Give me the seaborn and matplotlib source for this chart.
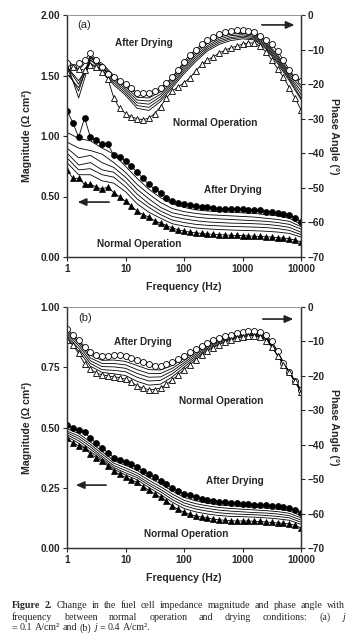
import matplotlib
matplotlib.use("Agg")
import matplotlib.pyplot as plt
import matplotlib.ticker as mticker
import seaborn as sns

# sampled frequencies (Hz): markers ~10 per decade, plain lines 5 per decade
freq_pts = [1, 1.26, 1.58, 2.0, 2.51, 3.16, 3.98, 5.01, 6.31, 7.94,
            10, 12.6, 15.8, 20.0, 25.1, 31.6, 39.8, 50.1, 63.1, 79.4,
            100, 126, 158, 200, 251, 316, 398, 501, 631, 794,
            1000, 1259, 1585, 1995, 2512, 3162, 3981, 5012, 6310, 7943, 10000]
freq_lines = [1, 1.58, 2.51, 3.98, 6.31, 10, 15.8, 25.1, 39.8, 63.1, 100,
              158, 251, 398, 631, 1000, 1585, 2512, 3981, 6310, 10000]

# ---- panel (a): j = 0.1 A/cm2 ----
a_mag_dry = [1.21, 1.11, 0.99, 1.15, 0.99, 0.97, 0.93, 0.93, 0.84, 0.83,
             0.79, 0.75, 0.70, 0.65, 0.60, 0.56, 0.53, 0.49, 0.46, 0.45,
             0.44, 0.43, 0.42, 0.41, 0.41, 0.405, 0.40, 0.40, 0.40, 0.40,
             0.395, 0.39, 0.39, 0.385, 0.375, 0.37, 0.36, 0.355, 0.345, 0.325, 0.29]
a_mag_norm = [0.72, 0.65, 0.65, 0.60, 0.60, 0.58, 0.56, 0.58, 0.53, 0.50,
              0.46, 0.42, 0.38, 0.35, 0.33, 0.30, 0.28, 0.26, 0.24, 0.225,
              0.215, 0.205, 0.20, 0.195, 0.19, 0.188, 0.185, 0.182, 0.18, 0.178,
              0.176, 0.174, 0.172, 0.17, 0.167, 0.164, 0.16, 0.156, 0.15, 0.14, 0.124]
a_mag_mid = [
    [1.03, 0.98, 0.96, 0.90, 0.85, 0.75, 0.65, 0.56, 0.49, 0.44, 0.41,
     0.39, 0.38, 0.375, 0.37, 0.365, 0.36, 0.35, 0.34, 0.32, 0.27],
    [0.95, 0.90, 0.88, 0.85, 0.78, 0.70, 0.60, 0.52, 0.45, 0.40, 0.375,
     0.36, 0.35, 0.345, 0.34, 0.335, 0.33, 0.32, 0.31, 0.295, 0.25],
    [0.90, 0.82, 0.84, 0.78, 0.74, 0.66, 0.56, 0.48, 0.41, 0.365, 0.345,
     0.33, 0.32, 0.315, 0.31, 0.305, 0.30, 0.295, 0.285, 0.27, 0.23],
    [0.86, 0.76, 0.78, 0.72, 0.70, 0.62, 0.52, 0.44, 0.38, 0.335, 0.315,
     0.30, 0.29, 0.285, 0.28, 0.278, 0.275, 0.27, 0.26, 0.245, 0.205],
    [0.82, 0.72, 0.73, 0.68, 0.66, 0.58, 0.48, 0.41, 0.35, 0.305, 0.285,
     0.27, 0.262, 0.257, 0.253, 0.25, 0.247, 0.243, 0.235, 0.22, 0.185],
    [0.78, 0.68, 0.68, 0.63, 0.61, 0.54, 0.44, 0.37, 0.32, 0.275, 0.255,
     0.24, 0.232, 0.227, 0.223, 0.22, 0.217, 0.213, 0.206, 0.195, 0.165],
]
a_ph_dry = [-14, -15, -14, -13, -11, -13, -15, -17, -18, -19,
            -20, -21, -22.5, -22.7, -22.6, -22, -21, -19.8, -18, -15.8,
            -13.5, -11.5, -10, -8.5, -7.3, -6.3, -5.5, -5, -4.6, -4.4,
            -4.4, -4.5, -5, -6, -7.3, -8.5, -10.5, -13, -16, -18, -19]
a_ph_norm = [-16.5, -15, -15.5, -16, -14.5, -15, -16.5, -18.5, -24, -27,
             -28.5, -29.5, -30, -30.3, -29.8, -28.5, -26.5, -24, -22, -20.8,
             -19.6, -18.2, -16.2, -14.3, -13, -12.1, -11, -10.2, -9.5, -9,
             -8.4, -8.1, -8.1, -9, -10.7, -13, -15.5, -18, -21, -24, -27.5]
a_ph_mid = [
    [-13, -16, -12, -14, -17.5, -20.3, -23, -23.2, -21.5, -18, -14,
     -10.5, -7.8, -6, -5.1, -4.9, -5.4, -7.8, -11.5, -16.5, -20],
    [-15, -20, -12.5, -14.5, -18, -20.8, -23.8, -24, -22.2, -18.6, -14.6,
     -11.1, -8.3, -6.5, -5.5, -5.3, -5.8, -8.2, -12, -17, -21],
    [-14, -24, -13, -15, -18.5, -21.4, -24.6, -24.9, -22.9, -19.2, -15.2,
     -11.7, -8.9, -7, -6, -5.7, -6.2, -8.6, -12.5, -17.5, -22],
    [-16, -22, -12, -15.2, -19, -22, -25.4, -25.8, -23.6, -19.8, -15.8,
     -12.3, -9.4, -7.5, -6.5, -6.1, -6.5, -9, -13, -18, -23],
    [-15, -19, -14, -15.8, -19.6, -22.6, -26.2, -26.7, -24.3, -20.4, -16.4,
     -12.9, -9.9, -8, -6.9, -6.5, -6.9, -9.4, -13.5, -18.5, -24],
    [-17, -21, -13, -16, -20.2, -23.2, -27, -27.6, -25, -21, -17,
     -13.5, -10.4, -8.5, -7.4, -6.9, -7.2, -9.8, -14, -19, -24.5],
]

# ---- panel (b): j = 0.4 A/cm2 ----
b_mag_dry = [0.51, 0.50, 0.49, 0.48, 0.455, 0.435, 0.415, 0.395, 0.375, 0.365,
             0.355, 0.35, 0.335, 0.32, 0.305, 0.295, 0.28, 0.265, 0.25, 0.235,
             0.225, 0.218, 0.21, 0.205, 0.20, 0.196, 0.192, 0.19, 0.188, 0.186,
             0.184, 0.182, 0.18, 0.179, 0.178, 0.176, 0.173, 0.17, 0.166, 0.158, 0.145]
b_mag_norm = [0.456, 0.436, 0.425, 0.415, 0.39, 0.375, 0.36, 0.34, 0.32, 0.305,
              0.293, 0.283, 0.272, 0.255, 0.24, 0.225, 0.21, 0.195, 0.175, 0.16,
              0.148, 0.14, 0.133, 0.128, 0.124, 0.12, 0.117, 0.115, 0.113, 0.112,
              0.112, 0.112, 0.111, 0.11, 0.108, 0.106, 0.104, 0.102, 0.10, 0.094, 0.083]
b_mag_mid = [
    [0.495, 0.475, 0.44, 0.40, 0.362, 0.343, 0.322, 0.292, 0.266, 0.236, 0.21,
     0.196, 0.186, 0.179, 0.175, 0.172, 0.168, 0.166, 0.161, 0.154, 0.134],
    [0.485, 0.465, 0.43, 0.39, 0.352, 0.332, 0.311, 0.281, 0.254, 0.224, 0.198,
     0.184, 0.175, 0.168, 0.164, 0.161, 0.158, 0.155, 0.151, 0.144, 0.125],
    [0.478, 0.455, 0.42, 0.38, 0.342, 0.322, 0.301, 0.27, 0.243, 0.212, 0.187,
     0.173, 0.164, 0.157, 0.153, 0.150, 0.147, 0.145, 0.141, 0.134, 0.116],
    [0.47, 0.445, 0.41, 0.372, 0.334, 0.312, 0.292, 0.261, 0.233, 0.201, 0.176,
     0.162, 0.153, 0.146, 0.142, 0.140, 0.138, 0.135, 0.131, 0.125, 0.107],
    [0.462, 0.435, 0.40, 0.365, 0.327, 0.303, 0.283, 0.251, 0.222, 0.19, 0.164,
     0.15, 0.141, 0.135, 0.131, 0.13, 0.128, 0.125, 0.121, 0.115, 0.098],
]
b_ph_dry = [-6.4, -8, -9.5, -11.5, -13, -13.8, -14.3, -14.2, -14, -14,
            -14.3, -14.8, -15.4, -16, -16.7, -17.1, -17, -16.6, -16, -15.2,
            -14.2, -13.2, -12.2, -11.3, -10.4, -9.6, -9, -8.4, -8, -7.6,
            -7.3, -7.1, -7.1, -7.3, -8.2, -10, -12.8, -16.4, -19, -21.5, -24]
b_ph_norm = [-9.6, -11, -13.5, -16.5, -18, -19.2, -19.7, -20, -20.3, -20.5,
             -21, -21.8, -22.9, -23.6, -24, -24, -23.5, -22.5, -21.2, -19.7,
             -18.2, -16.8, -15.3, -14, -12.8, -11.8, -10.9, -10.2, -9.6, -9.1,
             -8.7, -8.4, -8.4, -8.8, -9.8, -11.5, -14.2, -16.8, -19, -21.5, -24.7]
b_ph_mid = [
    [-7, -10, -14, -15.5, -15.4, -15.8, -17, -18.2, -18.3, -17, -15,
     -12.8, -10.8, -9.3, -8.3, -7.6, -7.4, -8.5, -13, -19, -24.2],
    [-7.5, -10.5, -14.8, -16.4, -16.4, -16.8, -18.2, -19.3, -19.3, -17.8, -15.6,
     -13.3, -11.2, -9.6, -8.6, -7.8, -7.6, -8.7, -13.2, -19, -24.3],
    [-8, -11.2, -15.6, -17.3, -17.4, -17.8, -19.3, -20.4, -20.3, -18.6, -16.2,
     -13.8, -11.6, -9.9, -8.8, -8, -7.8, -8.9, -13.4, -19, -24.4],
    [-8.5, -12, -16.4, -18.2, -18.4, -18.8, -20.4, -21.5, -21.3, -19.4, -16.8,
     -14.3, -12, -10.2, -9.1, -8.2, -8, -9.1, -13.6, -19, -24.5],
    [-9, -12.8, -17.2, -19, -19.4, -19.9, -21.6, -22.7, -22.4, -20.3, -17.5,
     -14.8, -12.4, -10.6, -9.3, -8.5, -8.2, -9.4, -13.9, -19, -24.6],
]

x_ticks = [1, 10, 100, 1000, 10000]
phase_ticks = [0, -10, -20, -30, -40, -50, -60, -70]

sns.set_style("ticks")
plt.rcParams['font.family'] = ['Liberation Sans', 'DejaVu Sans']
plt.rcParams['font.weight'] = 'bold'

W, H = 357, 641
fig = plt.figure(figsize=(W / 100, H / 100), dpi=100)


def px_axes(x0, y0, x1, y1):
    return fig.add_axes([x0 / W, 1 - y1 / H, (x1 - x0) / W, (y1 - y0) / H])


def draw_panel(ax, mag_dry, mag_norm, mag_mid, ph_dry, ph_norm, ph_mid,
               mag_max, mag_step, label, texts):
    ax2 = ax.twinx()
    for vals in mag_mid:
        sns.lineplot(x=freq_lines, y=vals, ax=ax, color='black', lw=0.6)
    for vals in ph_mid:
        sns.lineplot(x=freq_lines, y=vals, ax=ax2, color='black', lw=0.6)
    sns.lineplot(x=freq_pts, y=mag_dry, ax=ax, color='black', lw=0.6,
                 marker='o', markersize=4.3, markerfacecolor='black',
                 markeredgecolor='black', markeredgewidth=0.5)
    sns.lineplot(x=freq_pts, y=mag_norm, ax=ax, color='black', lw=0.6,
                 marker='^', markersize=4.3, markerfacecolor='black',
                 markeredgecolor='black', markeredgewidth=0.5)
    sns.lineplot(x=freq_pts, y=ph_dry, ax=ax2, color='black', lw=0.6,
                 marker='o', markersize=4.3, markerfacecolor='white',
                 markeredgecolor='black', markeredgewidth=0.6)
    sns.lineplot(x=freq_pts, y=ph_norm, ax=ax2, color='black', lw=0.6,
                 marker='^', markersize=4.3, markerfacecolor='white',
                 markeredgecolor='black', markeredgewidth=0.6)

    ax.set_xscale('log')
    ax.set_xlim(1, 10000)
    ax.set_xticks(x_ticks)
    ax.xaxis.set_major_formatter(mticker.FixedFormatter([str(v) for v in x_ticks]))
    ax.xaxis.set_minor_locator(mticker.NullLocator())
    ax.set_ylim(0, mag_max)
    ax.yaxis.set_major_locator(mticker.MultipleLocator(mag_step))
    ax.yaxis.set_major_formatter(mticker.FormatStrFormatter('%.2f'))
    ax2.set_ylim(-70, 0)
    ax2.set_yticks(phase_ticks)

    for a in (ax, ax2):
        a.tick_params(labelsize=7.2, length=3, width=0.8, pad=2)
        for lab in a.get_xticklabels() + a.get_yticklabels():
            lab.set_fontweight('bold')
        for side in ('left', 'right', 'bottom'):
            a.spines[side].set_color('#333333')
            a.spines[side].set_linewidth(0.9)
        a.spines['top'].set_color('#999999')
        a.spines['top'].set_linewidth(0.7)

    ax.set_xlabel('Frequency (Hz)', fontsize=7.6, fontweight='bold', labelpad=6)
    ax.set_ylabel('Magnitude (Ω cm²)', fontsize=7.6, fontweight='bold', labelpad=6)
    ax2.set_ylabel('Phase Angle (°)', fontsize=7.6, fontweight='bold',
                   rotation=270, labelpad=10)

    ax.text(label[1], label[2], label[0], transform=ax.transAxes,
            fontsize=8, fontweight='normal', ha='left', va='center')
    for s, fx, fy in texts:
        ax.text(fx, fy, s, transform=ax.transAxes, fontsize=7.2,
                fontweight='bold', ha='center', va='center')
    return ax2


# panel (a)
ax_a = px_axes(67, 15, 301, 257)
ax_a2 = draw_panel(ax_a, a_mag_dry, a_mag_norm, a_mag_mid, a_ph_dry, a_ph_norm,
                   a_ph_mid, 2.0, 0.5, ('(a)', 0.043, 0.959),
                   [('After Drying', 0.329, 0.884),
                    ('Normal Operation', 0.632, 0.554),
                    ('After Drying', 0.709, 0.277),
                    ('Normal Operation', 0.308, 0.054)])
ax_a.annotate('', xy=(0.034, 0.227), xytext=(0.192, 0.227), xycoords='axes fraction',
              arrowprops=dict(arrowstyle='-|>,head_length=0.5,head_width=0.22',
                              color='#222222', lw=1.2))
ax_a.annotate('', xy=(0.984, 0.959), xytext=(0.821, 0.959), xycoords='axes fraction',
              arrowprops=dict(arrowstyle='-|>,head_length=0.5,head_width=0.22',
                              color='#222222', lw=1.2))

# panel (b)
ax_b = px_axes(67, 307, 301, 548)
ax_b2 = draw_panel(ax_b, b_mag_dry, b_mag_norm, b_mag_mid, b_ph_dry, b_ph_norm,
                   b_ph_mid, 1.0, 0.25, ('(b)', 0.047, 0.954),
                   [('After Drying', 0.325, 0.855),
                    ('Normal Operation', 0.658, 0.61),
                    ('After Drying', 0.718, 0.278),
                    ('Normal Operation', 0.509, 0.058)])
ax_b.annotate('', xy=(0.026, 0.261), xytext=(0.179, 0.261), xycoords='axes fraction',
              arrowprops=dict(arrowstyle='-|>,head_length=0.5,head_width=0.22',
                              color='#222222', lw=1.2))
ax_b.annotate('', xy=(0.979, 0.95), xytext=(0.825, 0.95), xycoords='axes fraction',
              arrowprops=dict(arrowstyle='-|>,head_length=0.5,head_width=0.22',
                              color='#222222', lw=1.2))

# caption, set in serif and justified like the printed page
cap_size = 7.2
renderer = fig.canvas.get_renderer()


def caption_line(runs, y, x0=12, x1=345, justify=True):
    items = []
    for s, kw in runs:
        t = fig.text(0, y, s, fontsize=cap_size, family='Liberation Serif',
                     va='center', ha='left', **kw)
        items.append(t)
    widths = [t.get_window_extent(renderer).width for t in items]
    if justify and len(items) > 1:
        gap = (x1 - x0 - sum(widths)) / (len(items) - 1)
    else:
        probe = fig.text(0, 0, 'a a', fontsize=cap_size, family='Liberation Serif')
        probe2 = fig.text(0, 0, 'aa', fontsize=cap_size, family='Liberation Serif')
        gap = probe.get_window_extent(renderer).width - probe2.get_window_extent(renderer).width
        probe.remove()
        probe2.remove()
    x = x0
    for t, w in zip(items, widths):
        t.set_x(x / W)
        x += w + gap


plain = dict(fontweight='normal')
line1 = [('Figure', dict(fontweight='bold')), ('2.', dict(fontweight='bold'))] + \
    [(w, plain) for w in 'Change in the fuel cell impedance magnitude and phase angle with'.split()]
line2 = [(w, plain) for w in 'frequency between normal operation and drying conditions: (a)'.split()] + \
    [('j', dict(fontweight='normal', style='italic'))]
line3 = [('=', plain), ('0.1', plain), ('A/cm²', plain), ('and', plain), ('(b)', plain),
         ('j', dict(fontweight='normal', style='italic')), ('=', plain), ('0.4', plain),
         ('A/cm².', plain)]
caption_line(line1, 1 - 606 / H)
caption_line(line2, 1 - 617 / H)
caption_line(line3, 1 - 628 / H, justify=False)

fig.savefig('out.png', dpi=100)
